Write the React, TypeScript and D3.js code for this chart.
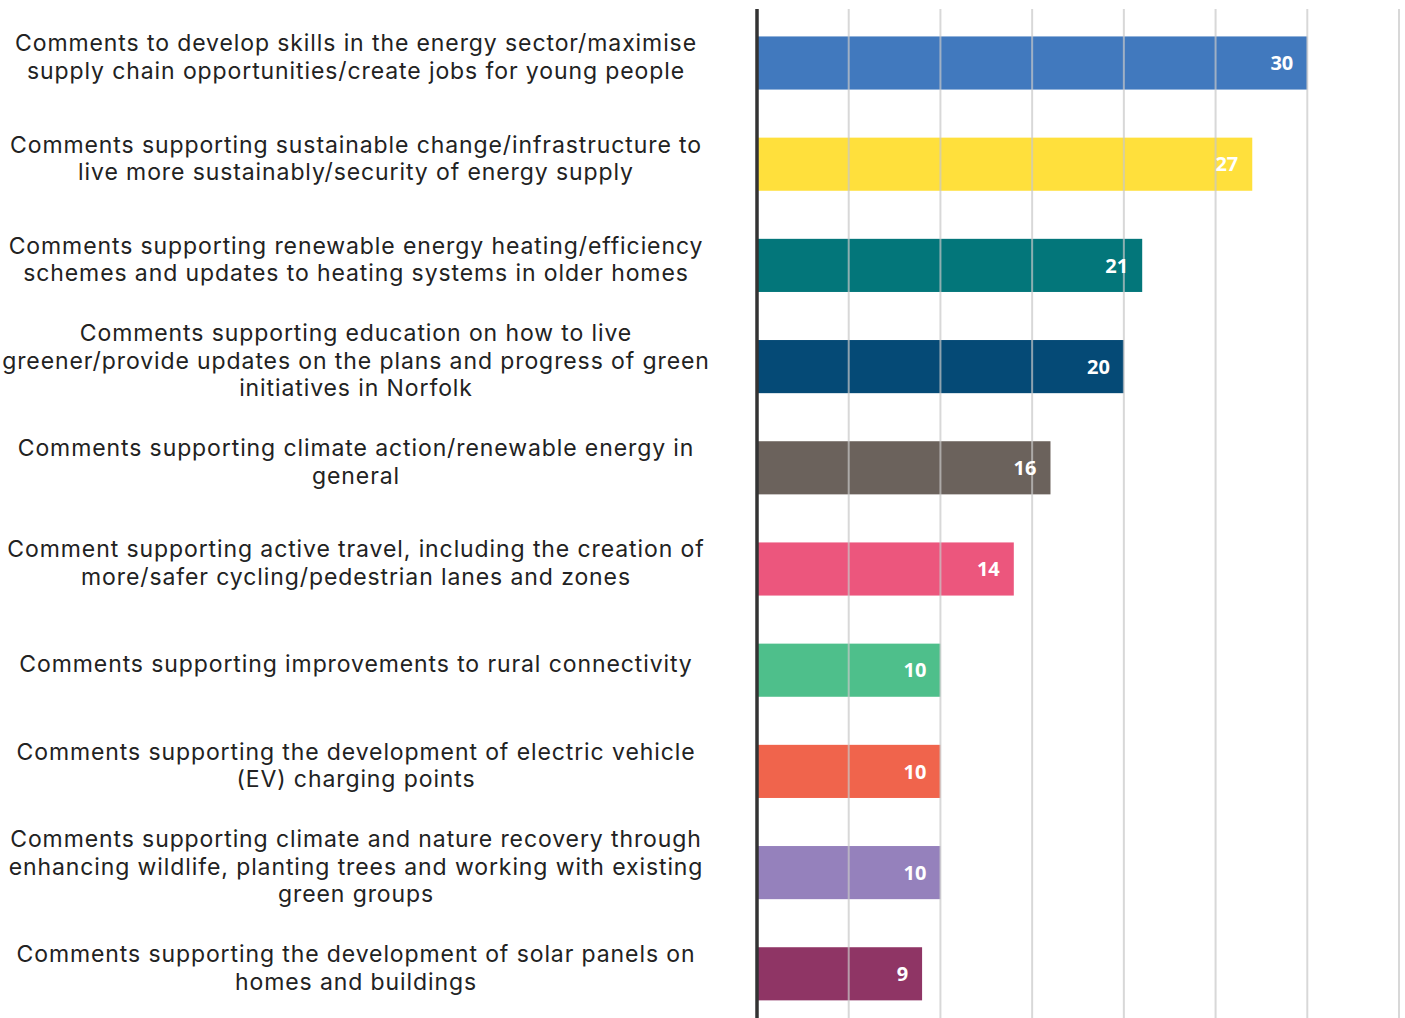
import React from "react";
import * as d3 from "d3";

const categories: string[][] = [
  ["Comments to develop skills in the energy sector/maximise", "supply chain opportunities/create jobs for young people"],
  ["Comments supporting sustainable change/infrastructure to", "live more sustainably/security of energy supply"],
  ["Comments supporting renewable energy heating/efficiency", "schemes and updates to heating systems in older homes"],
  ["Comments supporting education on how to live", "greener/provide updates on the plans and progress of green", "initiatives in Norfolk"],
  ["Comments supporting climate action/renewable energy in", "general"],
  ["Comment supporting active travel, including the creation of", "more/safer cycling/pedestrian lanes and zones"],
  ["Comments supporting improvements to rural connectivity"],
  ["Comments supporting the development of electric vehicle", "(EV) charging points"],
  ["Comments supporting climate and nature recovery through", "enhancing wildlife, planting trees and working with existing", "green groups"],
  ["Comments supporting the development of solar panels on", "homes and buildings"],
];
const values: number[] = [30, 27, 21, 20, 16, 14, 10, 10, 10, 9];
const colors: string[] = ["#4179BE", "#FFE03C", "#03767A", "#054A76", "#6B625C", "#EC567D", "#4EBF8B", "#F0644C", "#9581BC", "#8F3565"];
const ticks: number[] = [5, 10, 15, 20, 25, 30, 35];

const W = 1405;
const H = 1018;

export default function App() {
  const keys = categories.map((_, i) => String(i));
  const x = d3.scaleLinear().domain([0, 35]).range([757, 1399]);
  const y = d3.scaleBand<string>().domain(keys).range([12.4, 1024.4]).paddingInner(0.475).paddingOuter(0.2375);
  const lineH = 27.5;
  return (
    <svg width={W} height={H} style={{ position: "absolute", left: 0, top: 0, background: "#fff" }}>
      <rect x={0} y={0} width={W} height={H} fill="#fff" />
      {values.map((v, i) => (
        <rect key={"b" + i} x={x(0)} y={y(keys[i])!} width={x(v) - x(0)} height={y.bandwidth()} fill={colors[i]} />
      ))}
      {ticks.map((t) => (
        <line key={"g" + t} x1={x(t)} x2={x(t)} y1={9} y2={H} stroke="#c8c8c8" strokeOpacity={0.7} strokeWidth={2} />
      ))}
      <line x1={x(0)} x2={x(0)} y1={9} y2={H} stroke="#333" strokeWidth={3.5} />
      {values.map((v, i) => (
        <text
          key={"v" + i}
          x={x(v) - 14}
          y={y(keys[i])! + y.bandwidth() / 2}
          dy="0.36em"
          textAnchor="end"
          fill="#fff"
          fontFamily="'Open Sans', sans-serif"
          fontWeight={700}
          fontSize={20}
        >
          {v}
        </text>
      ))}
      {categories.map((lines, i) => {
        const cy = y(keys[i])! + y.bandwidth() / 2 - 6;
        const top = cy - ((lines.length - 1) * lineH) / 2;
        return (
          <text key={"l" + i} textAnchor="middle" fill="#222" fontFamily="Inter, sans-serif" fontSize={23} letterSpacing={0.9}>
            {lines.map((ln, j) => (
              <tspan key={j} x={356} y={top + j * lineH} dy="0.35em">
                {ln}
              </tspan>
            ))}
          </text>
        );
      })}
    </svg>
  );
}
